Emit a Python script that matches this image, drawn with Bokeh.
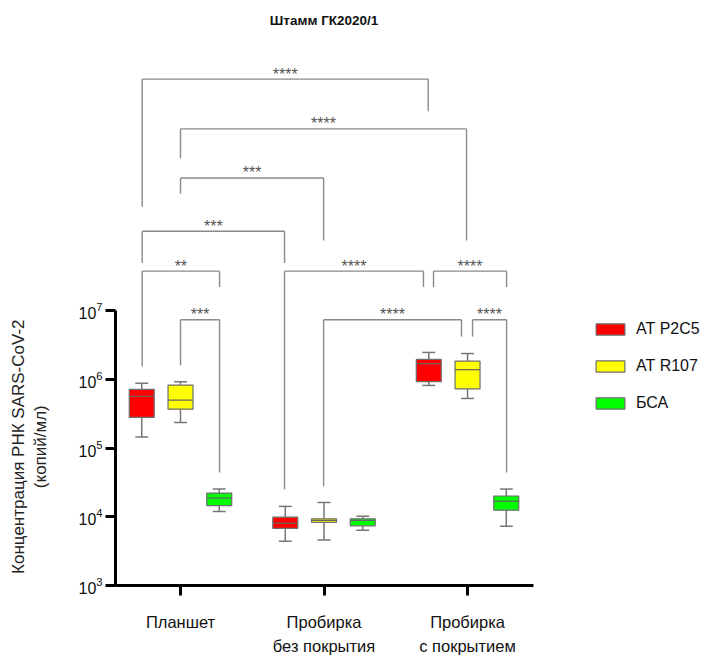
import numpy as np
from bokeh.plotting import figure
from bokeh.layouts import row
from bokeh.models import (Range1d, FixedTicker, Legend, LegendItem, Label,
                          ColumnDataSource)
from bokeh.core.properties import value
from bokeh.embed import file_html
from bokeh.resources import INLINE

# ---------------- data ----------------
title_text = "Штамм ГК2020/1"
y_label_1 = "Концентрация РНК SARS-CoV-2"
y_label_2 = "(копий/мл)"
categories = ["Планшет", "Пробирка\nбез покрытия", "Пробирка\nс покрытием"]
series_names = ["АТ P2C5", "АТ R107", "БСА"]
y_ticks = [1e3, 1e4, 1e5, 1e6, 1e7]

# box-plot statistics per category (Планшет, без покрытия, с покрытием)
p2c5_low = [1.45e5, 4.4e3, 8.2e5]
p2c5_q1 = [2.8e5, 6.8e3, 9.3e5]
p2c5_med = [5.7e5, 8.1e3, 1.7e6]
p2c5_q3 = [7.2e5, 9.9e3, 1.96e6]
p2c5_high = [8.8e5, 1.42e4, 2.48e6]

r107_low = [2.36e5, 4.6e3, 5.3e5]
r107_q1 = [3.7e5, 8.3e3, 7.3e5]
r107_med = [5.0e5, 8.9e3, 1.39e6]
r107_q3 = [8.3e5, 9.35e3, 1.85e6]
r107_high = [9.3e5, 1.62e4, 2.39e6]

bsa_low = [1.2e4, 6.4e3, 7.3e3]
bsa_q1 = [1.46e4, 7.4e3, 1.25e4]
bsa_med = [1.87e4, 8.9e3, 1.69e4]
bsa_q3 = [2.22e4, 9.35e3, 2.01e4]
bsa_high = [2.54e4, 1.02e4, 2.54e4]

# significance brackets: x ends, bar height (log10), leg ends (log10), label
br_x1 = [0.733, 1.0, 1.0, 0.733, 0.733, 1.0, 1.725, 2.763, 1.997, 3.035]
br_x2 = [2.726, 2.993, 1.997, 1.725, 1.272, 1.272, 2.693, 3.272, 2.958, 3.272]
br_bar = [10.375, 9.650, 8.935, 8.159, 7.578, 6.870, 7.578, 7.578, 6.870, 6.870]
br_leg1 = [8.516, 9.224, 8.704, 7.697, 6.191, 6.206, 4.401, 7.347, 4.444, 6.625]
br_leg2 = [9.907, 8.025, 8.025, 7.697, 7.347, 4.646, 7.347, 7.347, 6.625, 4.646]
br_text = ["****", "****", "***", "***", "**", "***", "****", "****", "****", "****"]

# ---------------- styling ----------------
FONT = "Liberation Sans"
colors = ["#ff0000", "#ffff00", "#00ff00"]
offsets = [-0.27, 0.0, 0.27]
box_w = 0.174
cap_w = 0.09
LEFT_W = 60
BOTTOM = 68
FRAME_H = 658 - BOTTOM

stats = [
    (p2c5_low, p2c5_q1, p2c5_med, p2c5_q3, p2c5_high),
    (r107_low, r107_q1, r107_med, r107_q3, r107_high),
    (bsa_low, bsa_q1, bsa_med, bsa_q3, bsa_high),
]

# ---- narrow strip holding the y-axis title (pixel coordinates) ----
lf = figure(width=LEFT_W, height=658, x_range=Range1d(0, LEFT_W),
            y_range=Range1d(0, FRAME_H), output_backend="svg",
            toolbar_location=None, min_border_left=0, min_border_right=0,
            min_border_top=0, min_border_bottom=BOTTOM)
lf.axis.visible = False
lf.grid.visible = False
lf.outline_line_color = None
label_center = FRAME_H - 450
lf.text(x=[18, 40], y=[label_center, label_center], text=[y_label_1, y_label_2],
        angle=np.pi / 2, text_align="center", text_baseline="middle",
        text_font=value(FONT), text_font_size="17px", text_color="#222222")

# ---- main chart ----
p = figure(width=709 - LEFT_W, height=658, y_axis_type="log",
           x_range=Range1d(0.547, 4.686), y_range=Range1d(1e3, 10 ** 11.52),
           output_backend="svg", toolbar_location=None,
           min_border_left=115 - LEFT_W, min_border_right=0, min_border_top=0,
           min_border_bottom=BOTTOM)
p.outline_line_color = None
p.xgrid.visible = False
p.ygrid.visible = False

xa = p.xaxis[0]
xa.ticker = FixedTicker(ticks=[1, 2, 3])
xa.major_label_overrides = {1: categories[0], 2: categories[1], 3: categories[2]}
xa.bounds = (0.547, 3.46)
ya = p.yaxis[0]
ya.ticker = FixedTicker(ticks=y_ticks)
ya.bounds = (1e3, 1e7)
for ax in (xa, ya):
    ax.axis_line_width = 3
    ax.axis_line_color = "black"
    ax.major_tick_line_width = 3
    ax.major_tick_line_color = "black"
    ax.major_tick_out = 10
    ax.major_tick_in = 0
    ax.minor_tick_line_color = None
    ax.major_label_text_font = FONT
    ax.major_label_text_color = "#111111"
xa.major_label_text_font_size = "16.5px"
xa.major_label_text_line_height = 1.38
xa.major_label_standoff = 17
ya.major_label_text_font_size = "16px"
ya.major_label_standoff = 3

# box plots
legend_items = []
for si, (lo, q1, md, q3, hi) in enumerate(stats):
    xs = [g + 1 + offsets[si] for g in range(len(categories))]
    src = ColumnDataSource(dict(
        x=xs, lo=lo, q1=q1, md=md, q3=q3, hi=hi,
        cl=[x - cap_w / 2 for x in xs], cr=[x + cap_w / 2 for x in xs],
        bl=[x - box_w / 2 for x in xs], br=[x + box_w / 2 for x in xs]))
    p.segment("x", "q3", "x", "hi", source=src, line_color="#777777", line_width=1.5)
    p.segment("x", "q1", "x", "lo", source=src, line_color="#777777", line_width=1.5)
    p.segment("cl", "hi", "cr", "hi", source=src, line_color="#777777", line_width=1.5)
    p.segment("cl", "lo", "cr", "lo", source=src, line_color="#777777", line_width=1.5)
    r = p.vbar(x="x", width=box_w, bottom="q1", top="q3", source=src,
               fill_color=colors[si], line_color="#6e6e6e", line_width=1.2)
    p.segment("bl", "md", "br", "md", source=src, line_color="#666666", line_width=1.3)
    legend_items.append(LegendItem(label=series_names[si], renderers=[r]))

# significance brackets
bsrc = ColumnDataSource(dict(
    x1=br_x1, x2=br_x2,
    yb=[10 ** v for v in br_bar], y1=[10 ** v for v in br_leg1],
    y2=[10 ** v for v in br_leg2],
    xm=[(a + b) / 2 for a, b in zip(br_x1, br_x2)], t=br_text))
bc = "#8a8a8a"
p.segment("x1", "yb", "x2", "yb", source=bsrc, line_color=bc, line_width=1.4)
p.segment("x1", "yb", "x1", "y1", source=bsrc, line_color=bc, line_width=1.4)
p.segment("x2", "yb", "x2", "y2", source=bsrc, line_color=bc, line_width=1.4)
p.text("xm", "yb", text="t", source=bsrc, text_align="center",
       text_baseline="alphabetic", y_offset=-5, text_font_size="16px",
       text_color="#555555", text_font=value(FONT))

# legend
legend = Legend(items=legend_items, location=(477, 173), orientation="vertical",
                glyph_width=36, glyph_height=14, label_height=14,
                label_text_font_size="16px", label_text_font=FONT,
                label_text_color="#111111",
                label_standoff=8, spacing=19, padding=0, margin=0,
                border_line_color=None, background_fill_alpha=0)
p.add_layout(legend)

# title
p.add_layout(Label(x=2.0, y=10 ** 11.231, text=title_text, text_align="center",
                   text_baseline="middle", text_font=FONT, text_font_size="13.5px",
                   text_font_style="bold", text_color="#111111"))

open("out.html", "w").write(file_html(row(lf, p), INLINE))
